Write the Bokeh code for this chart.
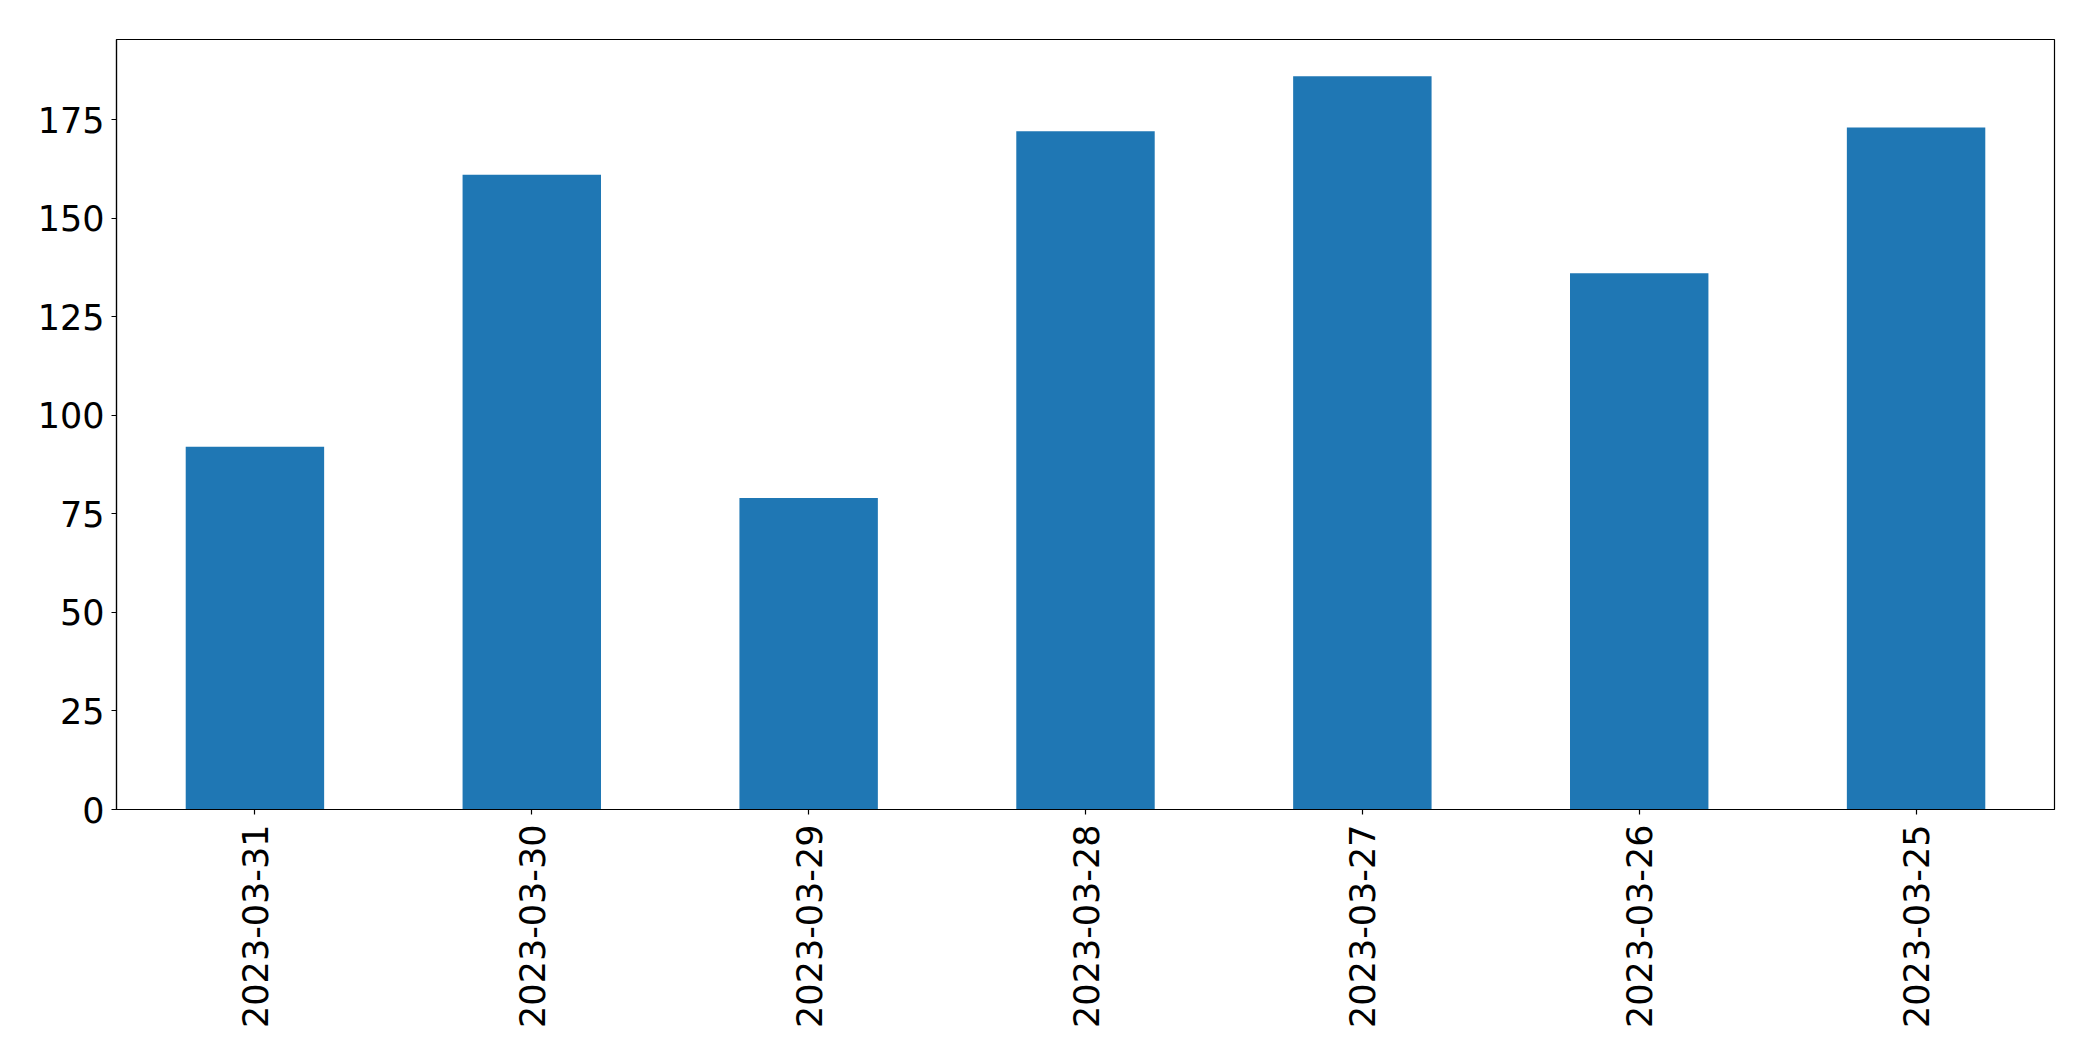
import math
from bokeh.plotting import figure
from bokeh.models import FactorRange, Range1d, FixedTicker, ColumnDataSource
from bokeh.embed import file_html
from bokeh.resources import INLINE

dates = ["2023-03-31", "2023-03-30", "2023-03-29", "2023-03-28",
         "2023-03-27", "2023-03-26", "2023-03-25"]
counts = [92, 161, 79, 172, 186, 136, 173]
y_ticks = [0, 25, 50, 75, 100, 125, 150, 175]

src = ColumnDataSource(data=dict(date=dates, count=counts))

p = figure(
    width=2077, height=1045,
    x_range=FactorRange(factors=dates, range_padding=0),
    y_range=Range1d(0, max(counts) * 1.05),
    output_backend="svg", toolbar_location=None,
    min_border_left=116, min_border_right=23,
    min_border_top=39, min_border_bottom=236,
)

p.vbar(x="date", top="count", width=0.5, source=src,
       fill_color="#1f77b4", line_color=None)

p.xgrid.visible = False
p.ygrid.visible = False
p.outline_line_color = "black"
p.outline_line_width = 1.2
p.background_fill_color = "white"
p.border_fill_color = "white"

p.yaxis.ticker = FixedTicker(ticks=y_ticks)
for ax in (p.xaxis[0], p.yaxis[0]):
    ax.axis_line_color = "black"
    ax.axis_line_width = 1.2
    ax.major_tick_line_color = "black"
    ax.major_tick_line_width = 1.2
    ax.major_tick_out = 5
    ax.major_tick_in = 0
    ax.minor_tick_line_color = None
    ax.major_label_text_font = "DejaVu Sans"
    ax.major_label_text_font_size = "35px"
    ax.major_label_text_color = "black"

p.yaxis.major_label_standoff = 7
p.xaxis.major_label_standoff = 10
p.xaxis.major_label_orientation = math.pi / 2

open("out.html", "w").write(file_html(p, INLINE))
